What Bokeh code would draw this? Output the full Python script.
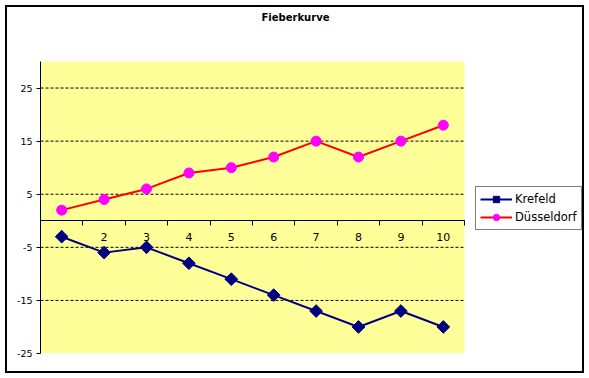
import math
from bokeh.plotting import figure
from bokeh.models import FixedTicker, Legend, LegendItem, Range1d, BoxAnnotation, Label
from bokeh.embed import file_html
from bokeh.resources import INLINE

categories = [1, 2, 3, 4, 5, 6, 7, 8, 9, 10]
category_labels = ["", "2", "3", "4", "5", "6", "7", "8", "9", "10"]
krefeld = [-3, -6, -5, -8, -11, -14, -17, -20, -17, -20]
duesseldorf = [2, 4, 6, 9, 10, 12, 15, 12, 15, 18]
y_ticks = [-25, -15, -5, 5, 15, 25]
grid_ticks = [-15, -5, 5, 15, 25]
y_min, y_max = -25, 30
x_min, x_max = 0.5, 10.5

# frame extends over the right/top blank area so legend and title can live inside it
p = figure(width=579, height=368, output_backend="svg", toolbar_location=None,
           x_range=Range1d(x_min, 13.377), y_range=Range1d(y_min, 40.17),
           min_border_left=33, min_border_top=0, min_border_right=0, min_border_bottom=22)
p.styles = {"border": "2px solid #000", "margin-left": "5px", "margin-top": "5px"}
p.background_fill_color = "white"
p.border_fill_color = "white"
p.outline_line_color = None

# yellow plot area
p.add_layout(BoxAnnotation(left=x_min, right=x_max, bottom=y_min, top=y_max,
                           fill_color="#FFFF99", fill_alpha=1, line_color=None, level="underlay"))

title = Label(x=6.514, y=38.29, text="Fieberkurve", text_align="center", text_baseline="middle",
              text_font="DejaVu Sans", text_font_size="10px", text_font_style="bold", text_color="black")
p.add_layout(title)

# axes
p.yaxis.ticker = FixedTicker(ticks=y_ticks)
p.yaxis.bounds = (y_min, y_max)
p.yaxis.major_label_overrides = {v: str(v) for v in y_ticks}
p.yaxis.major_tick_out = 4
p.yaxis.major_tick_in = 0
p.yaxis.minor_tick_line_color = None
p.yaxis.axis_line_color = "black"
p.yaxis.major_label_text_font = "DejaVu Sans"
p.yaxis.major_label_text_font_size = "9.5px"
p.yaxis.major_label_text_color = "black"
p.yaxis.major_label_standoff = 4

p.xaxis.fixed_location = 0
p.xaxis.bounds = (x_min, x_max)
p.xaxis.ticker = FixedTicker(ticks=categories, minor_ticks=[c - 0.5 for c in categories] + [10.5])
p.xaxis.major_label_overrides = {c: l for c, l in zip(categories, category_labels)}
p.xaxis.major_tick_line_color = None
p.xaxis.minor_tick_out = 5
p.xaxis.minor_tick_in = 0
p.xaxis.minor_tick_line_color = "black"
p.xaxis.axis_line_color = "black"
p.xaxis.major_label_text_font = "DejaVu Sans"
p.xaxis.major_label_text_font_size = "11px"
p.xaxis.major_label_text_color = "black"
p.xaxis.major_label_standoff = 6

p.xgrid.grid_line_color = None
p.ygrid.grid_line_color = None
p.segment(x0=[x_min] * len(grid_ticks), x1=[x_max] * len(grid_ticks), y0=grid_ticks, y1=grid_ticks,
          line_color="black", line_dash="3 2", line_width=1)

l1 = p.line(categories, krefeld, line_color="#000080", line_width=2)
s1 = p.scatter(categories, krefeld, marker="square", size=9, angle=math.pi / 4,
               fill_color="#000080", line_color="#000080")
l2 = p.line(categories, duesseldorf, line_color="#FF0000", line_width=2)
s2 = p.scatter(categories, duesseldorf, marker="circle", size=10, fill_color="#FF00FF", line_color="#FF00FF")

legend = Legend(items=[LegendItem(label="Krefeld", renderers=[l1, s1]),
                       LegendItem(label="Düsseldorf", renderers=[l2, s2])],
                location=(435, 123), border_line_color="black", border_line_width=1,
                label_text_font="DejaVu Sans", label_text_font_size="11.5px", label_text_color="black",
                glyph_width=32, glyph_height=16, label_standoff=3, padding=4, spacing=2,
                margin=0, background_fill_alpha=1)
p.add_layout(legend)

open("out.html", "w").write(file_html(p, INLINE))
